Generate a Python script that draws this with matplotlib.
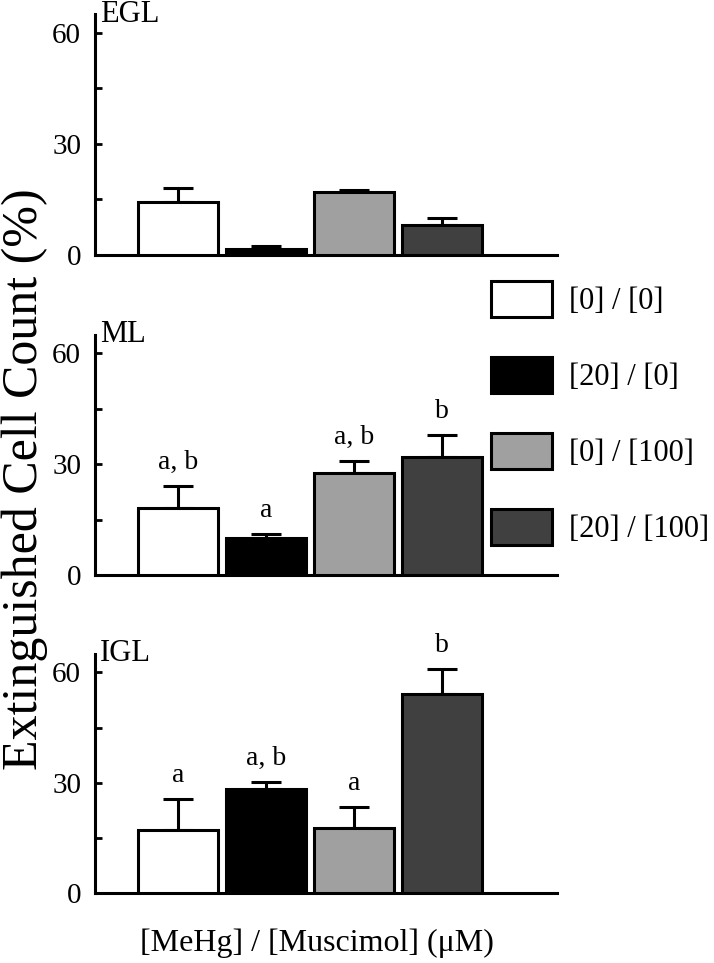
import numpy as np
import matplotlib
matplotlib.use("Agg")
import matplotlib.pyplot as plt
from matplotlib.patches import Patch
from matplotlib.ticker import MultipleLocator

plt.rcParams['font.family'] = ['Liberation Serif', 'DejaVu Serif']

groups = ['[0] / [0]', '[20] / [0]', '[0] / [100]', '[20] / [100]']
colors = ['#ffffff', '#000000', '#a0a0a0', '#404040']
layers = ['EGL', 'ML', 'IGL']

# mean and SEM
egl_mean = [14.3, 1.6, 17.0, 8.1]
egl_err = [3.8, 0.8, 0.5, 1.9]
ml_mean = [18.1, 10.0, 27.6, 31.9]
ml_err = [6.0, 1.1, 3.2, 5.9]
igl_mean = [17.1, 28.3, 17.7, 54.1]
igl_err = [8.4, 1.9, 5.7, 6.8]

ml_letters = ['a, b', 'a', 'a, b', 'b']
igl_letters = ['a', 'a, b', 'a', 'b']

panel_data = [
    (egl_mean, egl_err, None),
    (ml_mean, ml_err, ml_letters),
    (igl_mean, igl_err, igl_letters),
]

W, H = 714, 963
fig = plt.figure(figsize=(W / 100, H / 100), dpi=100)

# (zero line y, top y) in pixels for each panel
panel_px = [(255, 14.5), (575, 335), (893, 654)]
x_left, x_right = 95, 557

for layer, (mean, err, letters), (y0, y1) in zip(layers, panel_data, panel_px):
    ax = fig.add_axes([x_left / W, 1 - y0 / H, (x_right - x_left) / W, (y0 - y1) / H])
    x = np.arange(len(mean))
    ax.bar(x, mean, width=0.91, color=colors, edgecolor='black', linewidth=2.2, zorder=3)
    ax.errorbar(x, mean, yerr=[np.zeros(len(err)), err], fmt='none', ecolor='black',
                elinewidth=2.2, capsize=11, capthick=2.2, zorder=2)
    if letters:
        for xi, m, e, lab in zip(x, mean, err, letters):
            ax.annotate(lab, (xi, m + e), xytext=(0, 8), textcoords='offset points',
                        ha='center', va='bottom', fontsize=20)
    ax.set_xlim(-0.943, 4.307)
    ax.set_ylim(0, 65)
    ax.set_xticks([])
    ax.set_yticks([0, 30, 60])
    ax.yaxis.set_minor_locator(MultipleLocator(15))
    ax.tick_params(axis='y', which='both', direction='in', length=5, width=2,
                   labelsize=21, pad=10)
    for s in ['top', 'right']:
        ax.spines[s].set_visible(False)
    for s in ['left', 'bottom']:
        ax.spines[s].set_linewidth(2.2)
    ax.text(0.011, 0.97, layer, transform=ax.transAxes, ha='left', va='baseline',
            fontsize=22)

handles = [Patch(facecolor=c, edgecolor='black', linewidth=2.2) for c in colors]
fig.legend(handles, groups, loc='upper left', bbox_to_anchor=(491 / W, 1 - 281 / H),
           frameon=False, fontsize=22, handlelength=2.0, handleheight=1.45,
           labelspacing=1.3, handletextpad=0.55, borderpad=0, borderaxespad=0)

fig.text(25 / W, 1 - 479 / H, 'Extinguished Cell Count (%)', rotation=90,
         ha='center', va='center', fontsize=36)
fig.text(317 / W, 1 - 943 / H, '[MeHg] / [Muscimol] (\u03bcM)', ha='center',
         va='center', fontsize=23)

fig.savefig('out.png', dpi=100)
